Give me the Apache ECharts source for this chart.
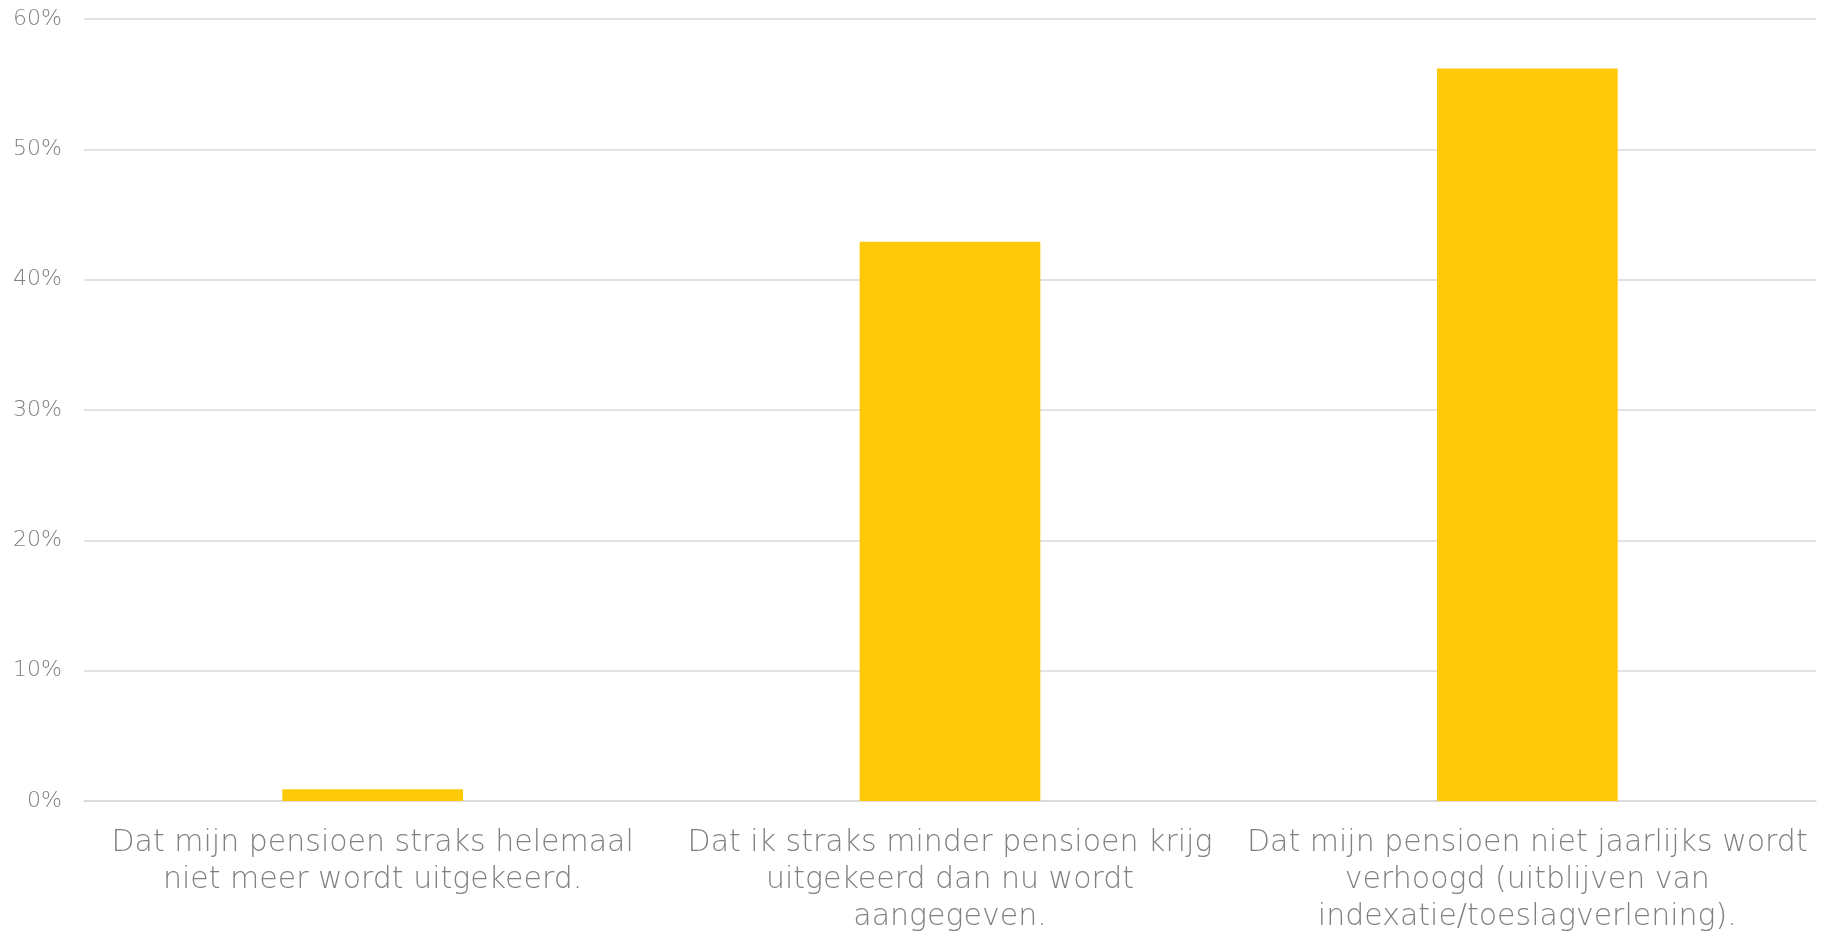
<!DOCTYPE html>
<html>
<head>
<meta charset="utf-8">
<script src="https://cdn.jsdelivr.net/npm/echarts@6/dist/echarts.min.js"></script>
<style>
  html, body { margin: 0; padding: 0; background: #fff; }
  #main { width: 1821px; height: 939px; }
</style>
</head>
<body>
<div id="main"></div>
<script>
// categorieën (met handmatige regelafbreking zoals in het origineel)
let categories = [
  'Dat mijn pensioen straks helemaal\nniet meer wordt uitgekeerd.',
  'Dat ik straks minder pensioen krijg\nuitgekeerd dan nu wordt\naangegeven.',
  'Dat mijn pensioen niet jaarlijks wordt\nverhoogd (uitblijven van\nindexatie/toeslagverlening).'
]
let values = [0.9, 42.9, 56.2]
let yTicks = { min: 0, max: 60, interval: 10 }

let myChart = echarts.init(document.getElementById('main'))

let option = {
  animation: false,
  grid: { left: 84, right: 5, top: 19, bottom: 138 },
  xAxis: {
    type: 'category',
    data: categories,
    axisLine: { lineStyle: { color: '#d9d9d9', width: 1.5 } },
    axisTick: { show: false },
    axisLabel: {
      interval: 0,
      color: '#808080',
      fontFamily: 'DejaVu Sans',
      fontWeight: 200,
      fontSize: 30,
      lineHeight: 37,
      margin: 24
    }
  },
  yAxis: {
    type: 'value',
    min: yTicks.min,
    max: yTicks.max,
    interval: yTicks.interval,
    axisLine: { show: false },
    axisTick: { show: false },
    splitLine: { lineStyle: { color: '#d9d9d9', width: 1.5 } },
    axisLabel: {
      formatter: '{value}%',
      color: '#808080',
      fontFamily: 'DejaVu Sans',
      fontWeight: 200,
      fontSize: 22,
      margin: 22
    }
  },
  series: [
    {
      type: 'bar',
      data: values,
      barWidth: '31.3%',
      itemStyle: { color: '#FFC907' }
    }
  ]
}

myChart.setOption(option)
</script>
</body>
</html>
